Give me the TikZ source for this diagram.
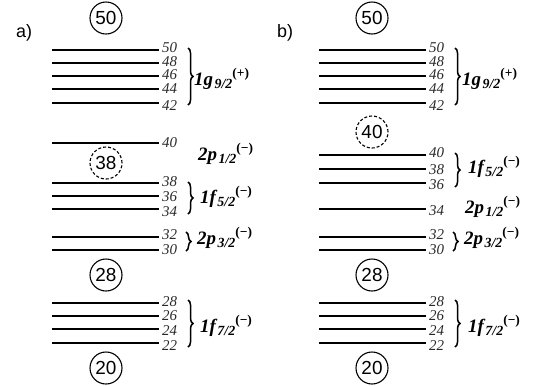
\documentclass[tikz,border=0pt]{standalone}
\usepackage{fontspec}
\setmainfont{Liberation Sans}
\newfontfamily\lvlfont{Liberation Serif}
\usetikzlibrary{decorations.pathreplacing}

\definecolor{numgray}{RGB}{40,40,40}

% etiqueta de un orbital: nombre, j, paridad
\newcommand{\orb}[3]{{\fontsize{19}{19}\selectfont\bfseries\itshape #1}\kern1.5pt%
  \raisebox{-4pt}{\fontsize{14}{14}\selectfont\bfseries\itshape #2}%
  \raisebox{8pt}{\fontsize{13.5}{13.5}\selectfont\bfseries (#3)}}

\begin{document}
\begin{tikzpicture}[x=1bp,y=-1bp,
    level/.style={line width=1.8bp},
    num/.style={anchor=west,inner sep=0pt,text=numgray,
      font=\lvlfont\itshape\fontsize{15}{15}\selectfont},
    magic/.style={circle,draw,line width=1.1bp,inner sep=0pt,minimum size=32bp,
      font=\fontsize{19}{19}\selectfont},
    magicd/.style={magic,dash pattern=on 3bp off 2bp},
    orbl/.style={anchor=base west,inner sep=0pt,font=\lvlfont},
    panel/.style={anchor=base west,inner sep=0pt,font=\fontsize{18}{18}\selectfont},
    shellbrace/.style={decorate,decoration={brace,amplitude=5bp},line width=1.5bp}]
    \useasboundingbox (0,0) rectangle (543,385);

    % Panel a)
    \node[panel] (lbla) at (16,37) {a)};
    \foreach \y/\n/\ny in {50/50/47.8,63/48/61.5,76/46/75,89/44/89,103/42/106,
        143/40/143,183/38/181.5,196/36/196.5,209/34/212,
        237/32/235,250/30/250,
        303/28/302,316/26/316,329/24/331,343/22/346} {
        \draw[level] (52,\y) -- (159,\y);
        \node[num] (a\n) at (162,\ny) {\n};
    }
    \node[magic] (am50) at (106,18) {50};
    \node[magicd] (am38) at (106,163) {38};
    \node[magic] (am28) at (106,275) {28};
    \node[magic] (am20) at (106,368) {20};

    \draw[shellbrace] (188,48) -- (188,105);
    \draw[shellbrace] (188,182) -- (188,214);
    \draw[shellbrace] (186,232) -- (186,251);
    \draw[shellbrace] (188,300) -- (188,347);
    \node[orbl] (ag92) at (194,85) {\orb{1g}{9/2}{+}};
    \node[orbl] (ap12) at (198,160) {\orb{2p}{1/2}{−}};
    \node[orbl] (af52) at (200,203) {\orb{1f}{5/2}{−}};
    \node[orbl] (ap32) at (197,244) {\orb{2p}{3/2}{−}};
    \node[orbl] (af72) at (200,332) {\orb{1f}{7/2}{−}};

    % Panel b)
    \node[panel] (lblb) at (277,37) {b)};
    \begin{scope}[xshift=267bp]
    \foreach \y/\n/\ny in {50/50/47.8,63/48/61.5,76/46/75,89/44/89,103/42/106,
        155/40/153,169/38/170,183/36/185,209/34/211,
        237/32/235,250/30/250,
        303/28/302,316/26/316,329/24/331,343/22/346} {
        \draw[level] (52,\y) -- (159,\y);
        \node[num] (b\n) at (162,\ny) {\n};
    }
    \node[magic] (bm50) at (105,18) {50};
    \node[magicd] (bm40) at (105,132) {40};
    \node[magic] (bm28) at (105,275) {28};
    \node[magic] (bm20) at (105,368) {20};

    \draw[shellbrace] (188,48) -- (188,105);
    \draw[shellbrace] (188,153) -- (188,187);
    \draw[shellbrace] (186,232) -- (186,251);
    \draw[shellbrace] (188,300) -- (188,347);
    \node[orbl] (bg92) at (195,85) {\orb{1g}{9/2}{+}};
    \node[orbl] (bf52) at (201,173) {\orb{1f}{5/2}{−}};
    \node[orbl] (bp12) at (198,213) {\orb{2p}{1/2}{−}};
    \node[orbl] (bp32) at (197,244) {\orb{2p}{3/2}{−}};
    \node[orbl] (bf72) at (201,332) {\orb{1f}{7/2}{−}};
    \end{scope}
\end{tikzpicture}
\end{document}
